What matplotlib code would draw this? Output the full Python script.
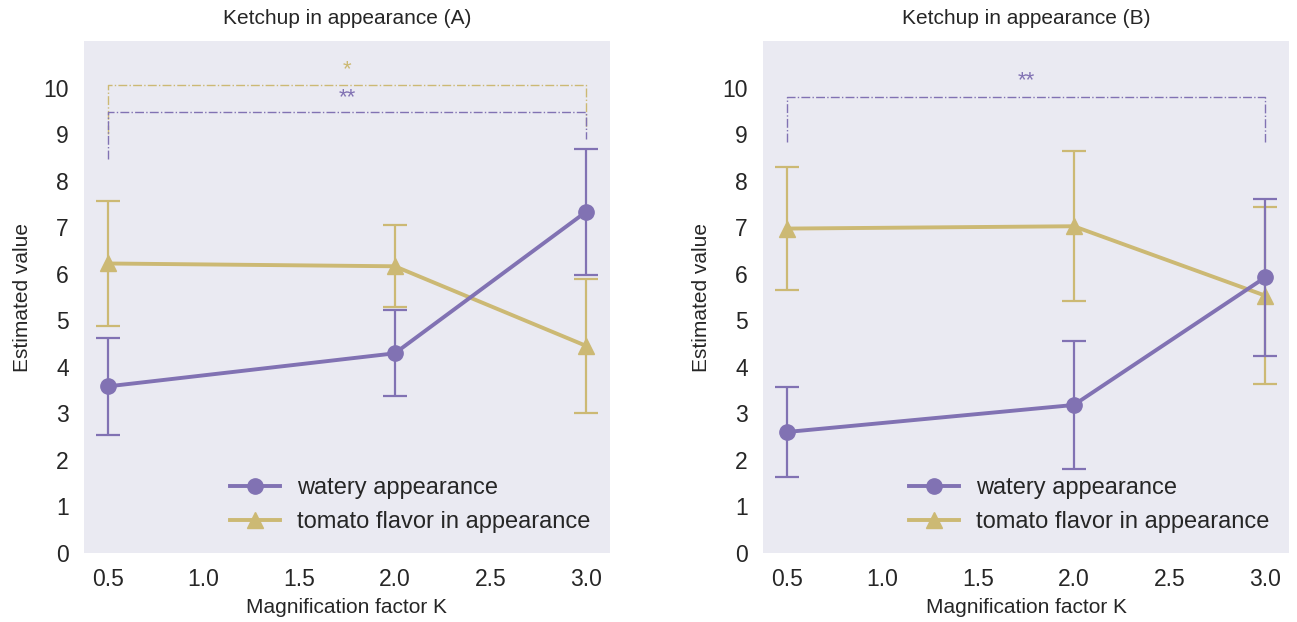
import matplotlib
matplotlib.use("Agg")
import matplotlib.pyplot as plt
from matplotlib.lines import Line2D

plt.rcParams['font.family'] = ['Liberation Sans', 'DejaVu Sans']

# Data
k_values = [0.5, 2.0, 3.0]

watery_A = [3.58, 4.29, 7.33]
watery_A_err = [1.04, 0.92, 1.36]
tomato_A = [6.22, 6.16, 4.45]
tomato_A_err = [1.34, 0.88, 1.44]

watery_B = [2.60, 3.18, 5.92]
watery_B_err = [0.97, 1.38, 1.68]
tomato_B = [6.97, 7.02, 5.53]
tomato_B_err = [1.32, 1.61, 1.90]

titles = ["Ketchup in appearance (A)", "Ketchup in appearance (B)"]
series_labels = ["watery appearance", "tomato flavor in appearance"]
x_ticks = [0.5, 1.0, 1.5, 2.0, 2.5, 3.0]
y_ticks = list(range(0, 11))

purple = '#8172B3'
yellow = '#CCB974'
# significance brackets: (x1, x2, y_top, y_left_end, y_right_end, text, text_y, color)
brackets_A = [
    (0.5, 3.0, 10.05, 9.0, 9.10, '*', 10.38, yellow),
    (0.5, 3.0, 9.47, 8.46, 8.90, '**', 9.78, purple),
]
brackets_B = [
    (0.5, 3.0, 9.80, 8.82, 8.84, '**', 10.14, purple),
]

fig = plt.figure(figsize=(12.97, 6.22), dpi=100)
ax1 = fig.add_axes([84/1297, 1-553/622, 526/1297, 512/622])
ax2 = fig.add_axes([763/1297, 1-553/622, 526/1297, 512/622])

text_color = '#262626'

def draw(ax, w, we, t, te, brackets, title):
    ax.set_facecolor('#EAEAF2')
    for s in ax.spines.values():
        s.set_visible(False)
    ax.errorbar(k_values, w, yerr=we, color=purple, lw=2.8, marker='o', ms=11,
                elinewidth=1.6, capsize=8.5, capthick=1.6, zorder=3)
    ax.errorbar(k_values, t, yerr=te, color=yellow, lw=2.8, marker='^', ms=12,
                elinewidth=1.6, capsize=8.5, capthick=1.6, zorder=2)
    for (x1, x2, yt, yl, yr, txt, ty, c) in brackets:
        ax.plot([x1, x1, x2, x2], [yl, yt, yt, yr], color=c, lw=1.0, ls='-.', zorder=1)
        ax.text((x1 + x2) / 2, ty, txt, color=c, ha='center', va='center', fontsize=16)
    ax.set_xlim(0.375, 3.125)
    ax.set_ylim(0, 11)
    ax.set_xticks(x_ticks)
    ax.set_yticks(y_ticks)
    ax.tick_params(length=0, labelsize=16.5, colors=text_color, pad=11)
    ax.set_xlabel("Magnification factor K", fontsize=15, color=text_color, labelpad=5)
    ax.set_ylabel("Estimated value", fontsize=15, color=text_color, labelpad=8)
    ax.set_title(title, fontsize=15, color=text_color, pad=12)
    handles = [
        Line2D([], [], color=purple, lw=2.8, marker='o', ms=11),
        Line2D([], [], color=yellow, lw=2.8, marker='^', ms=12),
    ]
    leg = ax.legend(handles, series_labels, loc='lower right', frameon=False,
                    fontsize=17, handlelength=2.1, handletextpad=0.7,
                    borderaxespad=0.45)
    for tx in leg.get_texts():
        tx.set_color(text_color)

draw(ax1, watery_A, watery_A_err, tomato_A, tomato_A_err, brackets_A, titles[0])
draw(ax2, watery_B, watery_B_err, tomato_B, tomato_B_err, brackets_B, titles[1])

fig.savefig("out.png", dpi=100)
